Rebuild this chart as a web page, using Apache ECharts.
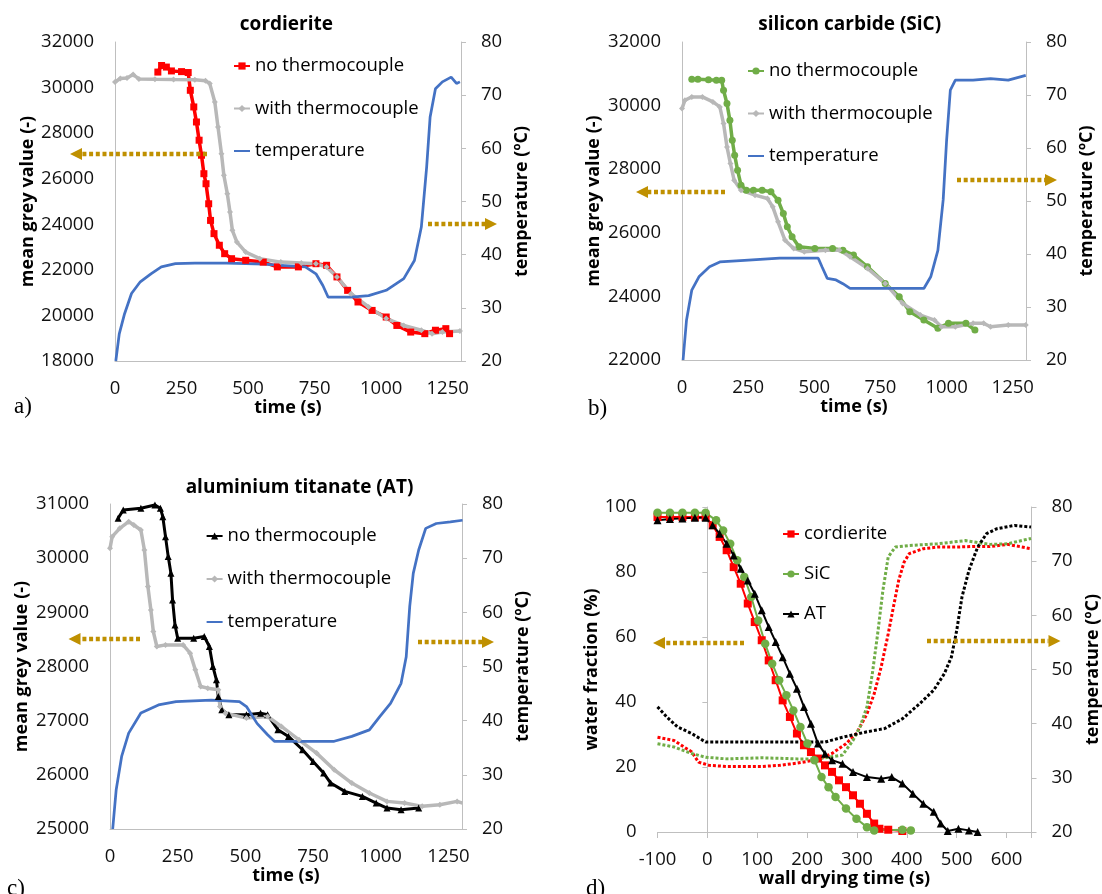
<!DOCTYPE html>
<html><head><meta charset="utf-8">
<script src="https://cdn.jsdelivr.net/npm/echarts@6.0.0/dist/echarts.min.js"></script>
<style>html,body{margin:0;padding:0;background:#fff}#c{width:1102px;height:894px}</style>
</head><body><div id="c"></div>
<script>
// ---------- DATA (time s, value) ----------
// a) cordierite
const cordNoTC = [[161,30680],[175,30970],[193,30900],[212,30730],[250,30700],[275,30660],[283,29880],[296,29150],[306,28490],[316,27690],[325,27030],[334,26220],[342,25780],[352,24900],[359,24170],[372,23590],[392,23080],[412,22710],[438,22490],[491,22420],[557,22340],[610,22130],[689,22130],[755,22270],[795,22200],[834,21690],[874,21100],[913,20590],[966,20220],[1019,19930],[1059,19560],[1111,19270],[1164,19200],[1204,19350],[1243,19420],[1257,19200]];
const cordWithTC = [[0,30245],[20,30400],[45,30420],[68,30570],[90,30380],[150,30360],[220,30350],[300,30340],[340,30300],[356,30174],[375,29370],[387,28270],[400,27100],[409,26150],[422,25345],[432,24540],[441,23735],[458,23220],[491,22780],[544,22490],[623,22340],[700,22300],[755,22270],[795,22125],[834,21690],[887,20955],[953,20370],[1019,19860],[1085,19560],[1151,19350],[1191,19200],[1230,19270],[1296,19315]];
const cordTemp = [[3,20],[16,25.1],[36,28.9],[62,32.7],[95,34.9],[135,36.4],[174,37.7],[227,38.3],[300,38.4],[359,38.4],[420,38.4],[491,38.3],[560,38.2],[623,38.0],[715,37.7],[755,36.4],[781,34.2],[801,32.0],[834,32.0],[887,32.0],[953,32.3],[1019,33.3],[1085,35.5],[1125,38.9],[1151,45.2],[1171,56.5],[1184,65.9],[1204,71.2],[1230,72.5],[1263,73.4],[1283,72.2],[1296,72.5]];
// b) silicon carbide
const sicNoTC = [[37,30827],[60,30830],[100,30810],[130,30800],[150,30796],[157,30482],[170,30063],[181,29539],[190,28911],[199,28440],[210,27969],[223,27497],[243,27340],[270,27340],[303,27340],[336,27288],[363,27026],[383,26607],[398,26188],[416,25874],[442,25560],[502,25508],[569,25508],[608,25455],[648,25298],[701,24932],[768,24409],[821,23990],[861,23518],[914,23257],[967,22995],[1007,23152],[1073,23152],[1107,22943]];
const sicWithTC = [[0,29906],[11,30168],[37,30272],[77,30272],[117,30115],[143,29958],[157,29435],[170,28702],[183,28178],[197,27655],[223,27340],[276,27183],[323,27078],[343,26817],[363,26346],[389,25770],[422,25508],[462,25403],[542,25455],[595,25455],[635,25246],[701,24880],[768,24409],[834,23780],[901,23414],[954,23257],[980,23047],[1033,23047],[1100,23152],[1140,23152],[1166,23047],[1233,23100],[1299,23100]];
const sicTemp = [[4,20],[17,27.5],[37,33.2],[64,35.7],[104,37.6],[143,38.5],[236,38.8],[369,39.2],[515,39.2],[529,37.6],[549,35.4],[582,35.1],[608,34.4],[635,33.5],[701,33.5],[834,33.5],[914,33.5],[940,35.7],[967,40.7],[987,50.2],[1000,61.5],[1014,70.9],[1033,72.8],[1100,72.8],[1166,73.1],[1233,72.8],[1299,73.7]];
// c) aluminium titanate
const atNoTC = [[30,30736],[49,30889],[114,30920],[166,30982],[186,30920],[195,30766],[205,30397],[215,30029],[225,29721],[231,29229],[240,28768],[250,28522],[309,28522],[348,28553],[367,28369],[380,28000],[393,27754],[400,27446],[413,27200],[439,27108],[504,27108],[556,27139],[582,27108],[620,26832],[659,26709],[711,26463],[750,26248],[789,26032],[815,25848],[867,25694],[932,25602],[983,25479],[1023,25387],[1075,25356],[1140,25387]];
const atWithTC = [[0,30182],[8,30397],[36,30551],[69,30674],[88,30613],[114,30520],[127,30152],[140,29475],[151,29045],[160,28645],[173,28369],[205,28399],[270,28399],[296,28246],[315,27938],[335,27631],[361,27600],[400,27569],[406,27262],[426,27139],[504,27047],[582,27078],[633,26893],[698,26647],[763,26401],[828,26094],[893,25848],[958,25664],[1023,25510],[1088,25479],[1153,25418],[1218,25448],[1282,25510],[1302,25479]];
const atTemp = [[10,20],[23,27.3],[43,33.4],[69,37.7],[114,41.4],[179,42.9],[244,43.5],[374,43.8],[478,43.5],[504,42.6],[543,39.5],[582,37.4],[607,36.2],[698,36.2],[828,36.2],[893,37.1],[958,38.3],[997,40.8],[1036,43.2],[1075,46.9],[1094,51.8],[1107,61.1],[1120,67.2],[1140,71.5],[1166,75.5],[1205,76.4],[1257,76.7],[1302,77.0]];
// d) water fraction (%) and temperature vs wall drying time
const dCordWater = [[-100,96.9],[-75,96.9],[-50,96.9],[-25,96.9],[-3.5,96.9],[10.6,94.4],[24.6,90.8],[38.7,86.7],[52.8,81.5],[66.9,76.4],[81,70.3],[95,64.6],[109,59],[123,52.8],[137,46.7],[151,40.5],[165.5,35.4],[179.6,30.3],[193.7,26.7],[207.7,24.6],[221.8,22.6],[235.9,20.5],[250,18.5],[264,15.9],[278,13.8],[292,11.3],[306,8.7],[320,5.6],[334.5,2.6],[345,1.0],[362.7,0.7],[391,0.3]];
const dSicWater = [[-100,98.2],[-75,98.2],[-50,98.2],[-25,98.2],[-3.5,98.2],[17.6,95.9],[31.7,92.8],[45.8,88.7],[59.9,83.6],[74,78.5],[88,72.3],[102,65.1],[116,57.9],[130,51.8],[144,46.7],[158.5,42.1],[172.5,37.4],[186.6,32.3],[200.7,27.2],[214.8,22.1],[228.9,16.9],[243,13.8],[257,10.8],[278,7.2],[299,4.1],[320,1.5],[334.5,0.5],[391,0.7],[408,0.5]];
const dAtWater = [[-100,95.9],[-75,96.3],[-50,96.5],[-25,96.7],[-3.5,96.7],[10.6,94.4],[24.6,91.8],[38.7,88.7],[52.8,85.1],[66.9,81],[81,77.4],[95,73.3],[109,68.2],[123,63.1],[137,58.5],[151,53.8],[165.5,48.7],[179.6,44.1],[193.7,38.5],[207.7,33.3],[221.8,27.2],[235.9,24.1],[250,22.1],[271,21],[292,18.5],[320,16.9],[348.6,16.4],[369.7,16.9],[391,14.9],[412,11.8],[433,8.7],[454,6.2],[468,2.6],[482,0.3],[503.5,1.0],[524.6,0.5],[542,0]];
const dCordTemp = [[-100,37.5],[-67,36.9],[-31.7,34.8],[-17.6,32.9],[3.5,32.3],[38.7,32.1],[109,32.1],[144,32.3],[179.6,32.7],[221.8,33.4],[250,34.5],[278,36.3],[299,38.2],[320,41.8],[334.5,45.5],[348.6,50.5],[362.7,56.6],[373,61.5],[383.8,66.5],[394.4,69.8],[405,71.4],[433,72.3],[461,72.6],[496.5,72.6],[531.7,72.7],[567,72.7],[602,73.1],[649,72.3]];
const dSicTemp = [[-100,36.3],[-67,35.7],[-31.7,34.5],[-3.5,33.8],[38.7,33.5],[109,33.7],[179.6,33.5],[221.8,33.5],[271,34.2],[292,36.9],[306,39.4],[320,43.1],[330.8,49.2],[341.5,56.6],[352,64.6],[362.7,70.8],[376.8,72.6],[405,72.9],[461,73.2],[517.6,73.8],[567,73.1],[602,73.2],[649,74.2]];
const dAtTemp = [[-100,43.1],[-81,41.2],[-60,39.4],[-31.7,38.2],[-3.5,36.6],[38.7,36.6],[109,36.6],[179.6,36.6],[235.9,36.6],[271,37.5],[320,38.5],[355.6,39.1],[391,40.9],[426,43.7],[454,46.2],[475,49.2],[489.4,52.3],[500,57.2],[510.6,63.4],[524.6,68.3],[542,72.6],[560,75.1],[581,76],[616,76.6],[649,76.3]];

const titles = ['cordierite', 'silicon carbide (SiC)', 'aluminium titanate (AT)'];
const letters = ['a)', 'b)', 'c)', 'd)'];
const legendAB = ['no thermocouple', 'with thermocouple', 'temperature'];
const legendD = ['cordierite', 'SiC', 'AT'];

// ---------- STYLE ----------
const FONT = "'Open Sans', 'Noto Sans', sans-serif";
const AXC = '#BFBFBF';
const GOLD = '#BF9000';
const RED = '#FF0000', GRAY = '#B8B8B8', BLUE = '#4472C4', GREEN = '#70AD47', BLACK = '#000000';
const Z1 = '\u200b', Z2 = '\u200b\u200b';

function xAx(g, min, max, interval, name, ticks) {
  return {
    type: 'value', gridIndex: g, min: min, max: max, interval: interval,
    axisLine: { show: true, onZero: false, lineStyle: { color: AXC, width: 1 } },
    axisTick: { show: ticks, length: 6, lineStyle: { color: AXC } },
    splitLine: { show: false },
    axisLabel: { margin: 18, fontSize: 18.5, color: '#111', fontFamily: FONT,
      formatter: function (v) { return (v % interval === 0) ? String(v) : ''; } },
    name: name, nameLocation: 'middle', nameGap: 37,
    nameTextStyle: { fontWeight: 'bold', fontSize: 18, color: '#000', fontFamily: FONT }
  };
}
function yAx(g, min, max, interval, pos, name, gap, line, ticks) {
  return {
    type: 'value', gridIndex: g, min: min, max: max, interval: interval, position: pos,
    axisLine: { show: line, onZero: false, lineStyle: { color: AXC, width: 1 } },
    axisTick: { show: ticks, length: 5, lineStyle: { color: AXC } },
    splitLine: { show: false },
    axisLabel: { margin: pos === 'left' ? 21 : 20, fontSize: 18.5, color: '#111', fontFamily: FONT,
      formatter: function (v) { return String(v); } },
    name: name, nameLocation: 'middle', nameGap: gap, nameRotate: 90,
    nameTextStyle: { fontWeight: 'bold', fontSize: 18, color: '#000', fontFamily: FONT }
  };
}
function ser(name, data, xi, yi, color, symbol, size, width, extra) {
  const s = {
    type: 'line', name: name, data: data, xAxisIndex: xi, yAxisIndex: yi,
    symbol: symbol, symbolSize: size, showSymbol: symbol !== 'none', showAllSymbol: true,
    lineStyle: { color: color, width: width },
    itemStyle: { color: color },
    emphasis: { disabled: true }, silent: true, z: 3
  };
  return Object.assign(s, extra || {});
}
function arrow(x1, y, tip) {
  const dir = tip < x1 ? -1 : 1;
  const base = tip - dir * 12;
  return [
    { type: 'line', shape: { x1: x1, y1: y, x2: base, y2: y }, style: { stroke: GOLD, lineWidth: 4.5, lineDash: [4, 2.7] }, z: 100 },
    { type: 'polygon', shape: { points: [[tip, y], [base, y - 6], [base, y + 6]] }, style: { fill: GOLD }, z: 100 }
  ];
}
function legend(names, left, top, gap, hideIdx) {
  return {
    orient: 'vertical', left: left, top: top, padding: 0, itemGap: gap,
    itemWidth: 16, itemHeight: 9, selectedMode: false,
    textStyle: { fontSize: 18.5, fontFamily: FONT, color: '#000', lineHeight: 20 },
    data: names.map(function (n, i) { return i === hideIdx ? { name: n, itemStyle: { opacity: 0 } } : { name: n }; })
  };
}
function ttl(text, x, y, bold, align, size, family) {
  return { text: text, left: x, top: y, padding: 0, textAlign: align, textVerticalAlign: 'middle',
    textStyle: { fontSize: size, fontWeight: bold ? 'bold' : 'normal', fontFamily: family, color: '#000' } };
}

const chart = echarts.init(document.getElementById('c'), null, { renderer: 'canvas' });
const opt = {
  animation: false,
  backgroundColor: '#fff',
  title: [
    ttl(titles[0], 286.4, 25, true, 'center', 19, FONT),
    ttl(titles[1], 849.7, 25, true, 'center', 19, FONT),
    ttl(titles[2], 299.5, 488, true, 'center', 19, FONT),
    ttl(letters[0], 14, 407, false, 'left', 23, "'Liberation Serif', serif"),
    ttl(letters[1], 588, 409, false, 'left', 23, "'Liberation Serif', serif"),
    ttl(letters[2], 7, 889, false, 'left', 23, "'Liberation Serif', serif"),
    ttl(letters[3], 586, 889, false, 'left', 23, "'Liberation Serif', serif")
  ],
  grid: [
    { left: 115, top: 42, width: 346, height: 319, containLabel: false, outerBoundsMode: 'none' },
    { left: 682, top: 42, width: 344, height: 318, containLabel: false, outerBoundsMode: 'none' },
    { left: 110, top: 504, width: 352, height: 325, containLabel: false, outerBoundsMode: 'none' },
    { left: 657.5, top: 507, width: 374, height: 325, containLabel: false, outerBoundsMode: 'none' }
  ],
  xAxis: [
    xAx(0, 0, 1300, 250, 'time (s)', false),
    xAx(1, 0, 1300, 250, 'time (s)', false),
    xAx(2, 0, 1300, 250, 'time (s)', false),
    xAx(3, -100, 650, 100, 'wall drying time (s)', true)
  ],
  yAxis: [
    yAx(0, 18000, 32000, 2000, 'left', 'mean grey value (-)', 78, true, false),
    yAx(0, 20, 80, 10, 'right', 'temperature (ºC)', 52, true, true),
    yAx(1, 22000, 32000, 2000, 'left', 'mean grey value (-)', 79.5, true, false),
    yAx(1, 20, 80, 10, 'right', 'temperature (ºC)', 52, true, true),
    yAx(2, 25000, 31000, 1000, 'left', 'mean grey value (-)', 79.5, true, false),
    yAx(2, 20, 80, 10, 'right', 'temperature (ºC)', 52, true, true),
    yAx(3, 0, 100, 20, 'left', 'water fraction (%)', 52, false, false),
    yAx(3, 20, 80, 10, 'right', 'temperature (ºC)', 52, true, true),
    {
      type: 'value', gridIndex: 3, position: 'left', min: 0, max: 100, interval: 20,
      axisLine: { show: true, onZero: true, lineStyle: { color: AXC, width: 1 } },
      axisTick: { show: true, length: 5, lineStyle: { color: AXC } },
      axisLabel: { show: false }, splitLine: { show: false }
    }
  ],
  legend: [
    legend(legendAB, 233, 56, 22.5, 2),
    legend(legendAB.map(function (n) { return n + Z1; }), 747, 61, 22.5, 2),
    legend(legendAB.map(function (n) { return n + Z2; }), 205.6, 526, 23, 2),
    legend(legendD, 782, 524, 20, -1)
  ],
  series: [
    ser(legendAB[0], cordNoTC, 0, 0, RED, 'rect', 7, 3.5),
    ser(legendAB[1], cordWithTC, 0, 0, GRAY, 'diamond', 6, 3.5),
    ser(legendAB[2], cordTemp, 0, 1, BLUE, 'none', 0, 2.75),

    ser(legendAB[0] + Z1, sicNoTC, 1, 2, GREEN, 'circle', 7, 3.5),
    ser(legendAB[1] + Z1, sicWithTC, 1, 2, GRAY, 'diamond', 6, 3.5),
    ser(legendAB[2] + Z1, sicTemp, 1, 3, BLUE, 'none', 0, 2.75),

    ser(legendAB[0] + Z2, atNoTC, 2, 4, BLACK, 'triangle', 7, 3),
    ser(legendAB[1] + Z2, atWithTC, 2, 4, GRAY, 'diamond', 6, 3.5),
    ser(legendAB[2] + Z2, atTemp, 2, 5, BLUE, 'none', 0, 2.75),

    ser(legendD[0], dCordWater, 3, 6, RED, 'rect', 8, 2),
    ser(legendD[1], dSicWater, 3, 6, GREEN, 'circle', 8.5, 2),
    ser(legendD[2], dAtWater, 3, 6, BLACK, 'triangle', 8, 2),
    ser('cordierite T', dCordTemp, 3, 7, RED, 'none', 0, 3, { lineStyle: { color: RED, width: 3, type: [3, 2] } }),
    ser('SiC T', dSicTemp, 3, 7, GREEN, 'none', 0, 3, { lineStyle: { color: GREEN, width: 3, type: [3, 2] } }),
    ser('AT T', dAtTemp, 3, 7, BLACK, 'none', 0, 3, { lineStyle: { color: BLACK, width: 3, type: [3, 2] } })
  ],
  graphic: [].concat(
    arrow(207, 154, 70), arrow(428, 224, 497),
    arrow(725, 192, 636), arrow(957, 180, 1057),
    arrow(140, 639, 68.5), arrow(418, 642, 494),
    arrow(744, 643, 653), arrow(927, 641, 1060.5)
  )
};
chart.setOption(opt);
</script>
</body></html>
